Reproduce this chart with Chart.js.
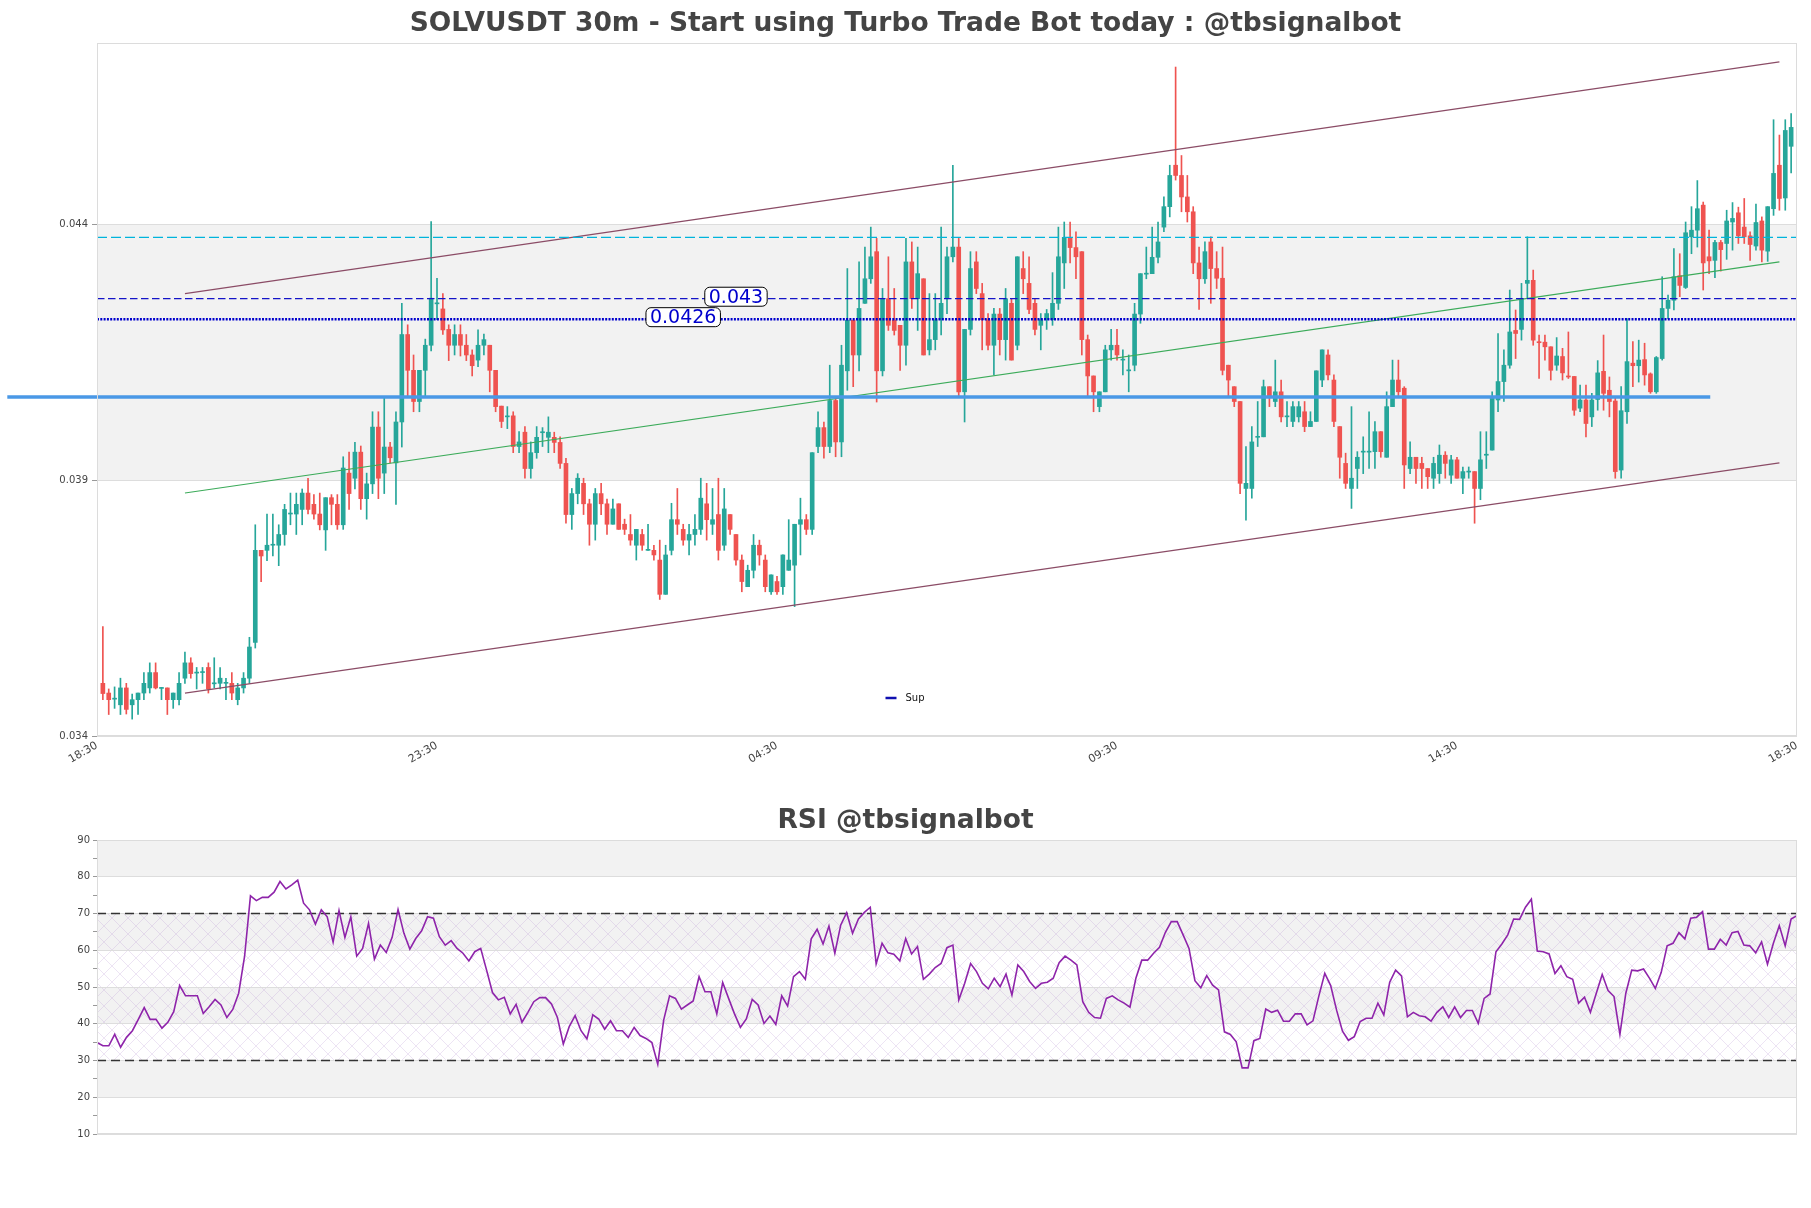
<!DOCTYPE html>
<html>
<head>
<meta charset="utf-8">
<script src="https://cdn.jsdelivr.net/npm/chart.js@4.4.1/dist/chart.umd.min.js"></script>
<style>
  html, body { margin: 0; padding: 0; background: #fff; }
  #priceBox { position: absolute; left: 0; top: 0; width: 1811px; height: 790px; }
  #rsiBox { position: absolute; left: 0; top: 790px; width: 1811px; height: 418px; }
</style>
</head>
<body>
<div id="priceBox"><canvas id="price"></canvas></div>
<div id="rsiBox"><canvas id="rsi"></canvas></div>
<script>
// --- data (5m candles, 24h) ---
const timeLabels = ['18:30', '23:30', '04:30', '09:30', '14:30', '18:30'];
const priceTicks = [0.03445, 0.03945, 0.04445];
const priceTickLabels = ['0.034', '0.039', '0.044'];

const opens = [
  0.03548,0.03529,0.03517,0.03506,0.03539,0.03506,0.03516,0.03529,0.03539,0.03569,
  0.03538,0.03539,0.03516,0.03516,0.03558,0.03588,0.03568,0.03569,0.03579,0.03547,
  0.03548,0.03548,0.03548,0.03516,0.03539,0.03558,0.03628,0.03808,0.03808,0.03818,
  0.03818,0.03839,0.03879,0.03879,0.03888,0.03920,0.03898,0.03879,0.03848,0.03911,
  0.03898,0.03858,0.03959,0.03949,0.04000,0.03909,0.03938,0.04049,0.03959,0.04010,
  0.03979,0.04059,0.04230,0.04160,0.04099,0.04160,0.04209,0.04290,0.04280,0.04240,
  0.04209,0.04230,0.04209,0.04190,0.04180,0.04209,0.04209,0.04160,0.04090,0.04069,
  0.04071,0.04011,0.04039,0.03968,0.03999,0.04038,0.04029,0.04029,0.04019,0.03978,
  0.03878,0.03919,0.03939,0.03899,0.03859,0.03919,0.03899,0.03859,0.03899,0.03859,
  0.03839,0.03818,0.03839,0.03808,0.03808,0.03789,0.03722,0.03808,0.03868,0.03849,
  0.03828,0.03839,0.03849,0.03899,0.03859,0.03878,0.03818,0.03878,0.03839,0.03789,
  0.03737,0.03769,0.03818,0.03789,0.03727,0.03747,0.03737,0.03769,0.03779,0.03859,
  0.03868,0.03849,0.04011,0.04048,0.04011,0.04101,0.04020,0.04159,0.04258,0.04190,
  0.04291,0.04339,0.04392,0.04159,0.04300,0.04258,0.04248,0.04209,0.04372,0.04300,
  0.04339,0.04200,0.04220,0.04259,0.04300,0.04382,0.04401,0.04118,0.04240,0.04372,
  0.04310,0.04259,0.04209,0.04270,0.04220,0.04291,0.04209,0.04359,0.04330,0.04291,
  0.04248,0.04259,0.04259,0.04291,0.04370,0.04420,0.04400,0.04392,0.04220,0.04149,
  0.04089,0.04118,0.04200,0.04209,0.04180,0.04159,0.04170,0.04270,0.04348,0.04349,
  0.04381,0.04440,0.04480,0.04561,0.04541,0.04499,0.04470,0.04370,0.04339,0.04411,
  0.04359,0.04340,0.04170,0.04128,0.04099,0.03929,0.03929,0.04029,0.04030,0.04128,
  0.04099,0.04118,0.04069,0.04060,0.04069,0.04079,0.04050,0.04060,0.04141,0.04190,
  0.04141,0.04050,0.03978,0.03929,0.03968,0.04000,0.04000,0.04001,0.04040,0.03990,
  0.04089,0.04141,0.04125,0.03968,0.03990,0.03978,0.03968,0.03949,0.03958,0.03994,
  0.03955,0.03985,0.03949,0.03961,0.03962,0.03929,0.03994,0.04004,0.04102,0.04138,
  0.04170,0.04238,0.04240,0.04330,0.04336,0.04215,0.04215,0.04206,0.04170,0.04187,
  0.04148,0.04148,0.04086,0.04102,0.04069,0.04103,0.04158,0.04121,0.04100,0.03965,
  0.04079,0.04174,0.04169,0.04181,0.04153,0.04118,0.04183,0.04281,0.04297,0.04345,
  0.04322,0.04421,0.04434,0.04483,0.04382,0.04375,0.04410,0.04408,0.04450,0.04468,
  0.04440,0.04423,0.04403,0.04452,0.04393,0.04476,0.04561,0.04497,0.04598
];
const highs = [
  0.03659,0.03537,0.03541,0.03558,0.03548,0.03527,0.03529,0.03569,0.03588,0.03588,
  0.03540,0.03539,0.03529,0.03569,0.03609,0.03598,0.03579,0.03579,0.03588,0.03598,
  0.03579,0.03558,0.03569,0.03548,0.03569,0.03638,0.03858,0.03808,0.03879,0.03879,
  0.03858,0.03898,0.03920,0.03920,0.03928,0.03949,0.03917,0.03920,0.03911,0.03917,
  0.03917,0.03991,0.04000,0.04019,0.04012,0.03959,0.04079,0.04079,0.04109,0.04019,
  0.04079,0.04291,0.04249,0.04190,0.04160,0.04221,0.04451,0.04340,0.04310,0.04249,
  0.04249,0.04249,0.04230,0.04200,0.04239,0.04231,0.04209,0.04160,0.04090,0.04089,
  0.04079,0.04040,0.04050,0.04020,0.04050,0.04048,0.04069,0.04039,0.04030,0.03988,
  0.03929,0.03958,0.03949,0.03908,0.03929,0.03939,0.03908,0.03908,0.03899,0.03869,
  0.03878,0.03849,0.03849,0.03859,0.03818,0.03828,0.03818,0.03900,0.03929,0.03859,
  0.03859,0.03878,0.03949,0.03939,0.03929,0.03949,0.03929,0.03878,0.03839,0.03799,
  0.03779,0.03839,0.03828,0.03799,0.03760,0.03757,0.03799,0.03868,0.03859,0.03910,
  0.03878,0.03999,0.04079,0.04059,0.04170,0.04108,0.04209,0.04359,0.04258,0.04372,
  0.04401,0.04440,0.04418,0.04320,0.04382,0.04320,0.04248,0.04418,0.04411,0.04401,
  0.04339,0.04310,0.04310,0.04440,0.04401,0.04561,0.04418,0.04240,0.04392,0.04392,
  0.04330,0.04271,0.04281,0.04281,0.04320,0.04300,0.04382,0.04392,0.04382,0.04300,
  0.04271,0.04279,0.04351,0.04440,0.04450,0.04450,0.04431,0.04392,0.04229,0.04149,
  0.04118,0.04209,0.04240,0.04240,0.04200,0.04190,0.04291,0.04349,0.04401,0.04440,
  0.04450,0.04499,0.04561,0.04753,0.04580,0.04541,0.04480,0.04401,0.04411,0.04421,
  0.04392,0.04401,0.04170,0.04128,0.04099,0.04011,0.04050,0.04099,0.04141,0.04128,
  0.04180,0.04141,0.04099,0.04099,0.04099,0.04099,0.04079,0.04159,0.04200,0.04200,
  0.04151,0.04050,0.03998,0.04089,0.04001,0.04030,0.04079,0.04060,0.04040,0.04118,
  0.04180,0.04180,0.04128,0.04020,0.03990,0.03990,0.03968,0.03990,0.04014,0.04001,
  0.03994,0.03990,0.03971,0.03971,0.03962,0.04040,0.04040,0.04118,0.04232,0.04200,
  0.04317,0.04278,0.04330,0.04421,0.04356,0.04229,0.04229,0.04206,0.04224,0.04203,
  0.04235,0.04148,0.04131,0.04131,0.04115,0.04179,0.04229,0.04147,0.04108,0.04128,
  0.04261,0.04216,0.04219,0.04213,0.04155,0.04187,0.04343,0.04307,0.04398,0.04388,
  0.04450,0.04480,0.04531,0.04489,0.04434,0.04414,0.04414,0.04473,0.04488,0.04479,
  0.04496,0.04431,0.04485,0.04460,0.04480,0.04650,0.04620,0.04650,0.04662
];
const lows = [
  0.03516,0.03487,0.03499,0.03487,0.03488,0.03478,0.03487,0.03516,0.03529,0.03537,
  0.03516,0.03487,0.03499,0.03506,0.03548,0.03558,0.03537,0.03548,0.03529,0.03539,
  0.03537,0.03516,0.03516,0.03506,0.03529,0.03548,0.03617,0.03747,0.03788,0.03797,
  0.03778,0.03818,0.03858,0.03839,0.03858,0.03879,0.03869,0.03848,0.03808,0.03858,
  0.03849,0.03849,0.03888,0.03928,0.03888,0.03869,0.03919,0.03909,0.03919,0.03979,
  0.03898,0.04010,0.04109,0.04079,0.04079,0.04109,0.04198,0.04259,0.04230,0.04179,
  0.04190,0.04188,0.04179,0.04149,0.04167,0.04190,0.04118,0.04079,0.04048,0.04046,
  0.03999,0.03999,0.03949,0.03949,0.03988,0.04011,0.03999,0.03999,0.03968,0.03861,
  0.03849,0.03899,0.03878,0.03818,0.03828,0.03878,0.03839,0.03859,0.03849,0.03839,
  0.03818,0.03789,0.03808,0.03808,0.03789,0.03712,0.03722,0.03799,0.03839,0.03818,
  0.03799,0.03818,0.03839,0.03828,0.03839,0.03789,0.03808,0.03839,0.03779,0.03727,
  0.03737,0.03754,0.03779,0.03727,0.03722,0.03722,0.03722,0.03769,0.03698,0.03799,
  0.03839,0.03839,0.03999,0.03988,0.03999,0.03991,0.03991,0.04121,0.04128,0.04159,
  0.04291,0.04330,0.04098,0.04149,0.04238,0.04229,0.04160,0.04170,0.04281,0.04238,
  0.04190,0.04190,0.04200,0.04229,0.04271,0.04372,0.04108,0.04059,0.04229,0.04310,
  0.04200,0.04200,0.04151,0.04190,0.04180,0.04180,0.04200,0.04310,0.04271,0.04229,
  0.04200,0.04240,0.04248,0.04279,0.04320,0.04370,0.04339,0.04190,0.04108,0.04079,
  0.04079,0.04118,0.04180,0.04180,0.04151,0.04118,0.04159,0.04252,0.04339,0.04349,
  0.04370,0.04431,0.04460,0.04532,0.04470,0.04450,0.04349,0.04279,0.04330,0.04291,
  0.04320,0.04151,0.04108,0.04089,0.03919,0.03867,0.03910,0.04011,0.04030,0.04089,
  0.04089,0.04059,0.04050,0.04050,0.04059,0.04040,0.04050,0.04060,0.04128,0.04141,
  0.04050,0.03949,0.03929,0.03890,0.03929,0.03958,0.03968,0.03968,0.03990,0.03990,
  0.04089,0.04108,0.03929,0.03958,0.03939,0.03929,0.03929,0.03929,0.03939,0.03949,
  0.03939,0.03949,0.03919,0.03949,0.03861,0.03907,0.03968,0.04004,0.04079,0.04099,
  0.04164,0.04183,0.04219,0.04300,0.04209,0.04144,0.04180,0.04141,0.04160,0.04141,
  0.04144,0.04072,0.04079,0.04030,0.04050,0.04082,0.04082,0.04069,0.03949,0.03949,
  0.04056,0.04128,0.04137,0.04131,0.04115,0.04115,0.04180,0.04261,0.04278,0.04304,
  0.04320,0.04388,0.04401,0.04317,0.04349,0.04341,0.04354,0.04377,0.04395,0.04408,
  0.04408,0.04375,0.04395,0.04372,0.04373,0.04463,0.04473,0.04473,0.04546
];
const closes = [
  0.03528,0.03516,0.03519,0.03539,0.03497,0.03516,0.03529,0.03548,0.03569,0.03539,
  0.03540,0.03516,0.03529,0.03548,0.03588,0.03567,0.03569,0.03570,0.03537,0.03549,
  0.03558,0.03549,0.03529,0.03539,0.03558,0.03619,0.03808,0.03797,0.03818,0.03819,
  0.03839,0.03888,0.03880,0.03898,0.03920,0.03888,0.03879,0.03858,0.03911,0.03898,
  0.03858,0.03969,0.03919,0.04000,0.03909,0.03938,0.04049,0.03949,0.04010,0.03989,
  0.04059,0.04230,0.04160,0.04099,0.04160,0.04209,0.04301,0.04291,0.04239,0.04209,
  0.04230,0.04209,0.04190,0.04169,0.04209,0.04220,0.04160,0.04089,0.04060,0.04070,
  0.04011,0.04020,0.03968,0.03999,0.04029,0.04039,0.04039,0.04019,0.03978,0.03878,
  0.03919,0.03949,0.03899,0.03859,0.03919,0.03899,0.03859,0.03889,0.03849,0.03849,
  0.03828,0.03849,0.03818,0.03809,0.03799,0.03722,0.03799,0.03868,0.03859,0.03828,
  0.03839,0.03849,0.03910,0.03868,0.03868,0.03808,0.03889,0.03849,0.03789,0.03747,
  0.03769,0.03818,0.03799,0.03737,0.03760,0.03727,0.03799,0.03789,0.03859,0.03868,
  0.03849,0.03999,0.04048,0.04011,0.04101,0.04020,0.04170,0.04258,0.04190,0.04281,
  0.04339,0.04382,0.04159,0.04300,0.04248,0.04238,0.04209,0.04372,0.04300,0.04349,
  0.04190,0.04220,0.04259,0.04291,0.04382,0.04401,0.04118,0.04240,0.04359,0.04320,
  0.04259,0.04209,0.04270,0.04220,0.04300,0.04180,0.04382,0.04339,0.04279,0.04240,
  0.04259,0.04271,0.04291,0.04382,0.04420,0.04400,0.04382,0.04220,0.04149,0.04118,
  0.04118,0.04200,0.04209,0.04190,0.04181,0.04160,0.04270,0.04349,0.04349,0.04381,
  0.04411,0.04480,0.04541,0.04541,0.04499,0.04470,0.04370,0.04339,0.04392,0.04359,
  0.04340,0.04160,0.04141,0.04099,0.03939,0.03939,0.04020,0.04030,0.04128,0.04108,
  0.04118,0.04069,0.04070,0.04089,0.04089,0.04050,0.04060,0.04159,0.04200,0.04151,
  0.04060,0.03990,0.03939,0.03949,0.03990,0.04001,0.04001,0.04040,0.04001,0.04089,
  0.04141,0.04118,0.03975,0.03990,0.03968,0.03968,0.03952,0.03978,0.03994,0.03978,
  0.03985,0.03949,0.03962,0.03962,0.03929,0.03985,0.03995,0.04108,0.04138,0.04170,
  0.04235,0.04232,0.04300,0.04336,0.04219,0.04214,0.04206,0.04160,0.04188,0.04155,
  0.04147,0.04082,0.04102,0.04056,0.04102,0.04155,0.04115,0.04099,0.03962,0.04081,
  0.04177,0.04169,0.04180,0.04151,0.04118,0.04185,0.04281,0.04297,0.04343,0.04326,
  0.04429,0.04434,0.04476,0.04370,0.04374,0.04410,0.04396,0.04452,0.04457,0.04423,
  0.04421,0.04406,0.04449,0.04395,0.04480,0.04545,0.04496,0.04629,0.04635
];
const rsiValues = [
  34.9,34.0,34.0,37.1,33.6,36.3,38.1,41.2,44.4,41.2,
  41.2,38.8,40.4,43.3,50.4,47.6,47.6,47.6,42.8,44.6,
  46.6,45.1,41.7,43.9,48.3,58.3,74.8,73.5,74.4,74.4,
  75.8,78.7,76.7,77.8,79.1,72.8,71.0,67.1,71.0,69.1,
  62.2,70.8,63.5,69.1,58.4,60.5,67.3,57.6,61.4,59.4,
  63.5,71.1,64.6,60.3,63.2,65.3,69.1,68.7,63.7,61.4,
  62.6,60.5,59.2,57.1,59.6,60.5,54.6,48.5,46.5,47.2,
  42.7,45.3,40.4,43.1,46.0,47.1,47.1,45.4,41.7,34.5,
  39.2,42.2,38.1,35.9,42.4,41.3,38.5,40.8,38.1,38.1,
  36.3,39.0,36.8,36.0,34.9,29.0,41.0,47.6,46.9,44.0,
  45.1,46.2,52.8,48.7,48.7,42.7,51.2,46.9,42.7,39.0,
  41.3,46.6,45.1,40.1,42.1,39.8,47.6,44.8,52.8,54.2,
  52.1,63.1,65.7,61.7,66.6,59.2,66.9,70.2,64.6,68.5,
  70.3,71.7,56.3,61.9,59.3,58.9,57.1,63.2,59.0,61.0,
  52.1,53.5,55.3,56.4,60.7,61.4,46.5,51.0,56.4,54.2,
  51.0,49.5,52.4,50.1,53.5,47.8,56.0,54.2,51.5,49.6,
  51.0,51.3,52.4,56.6,58.4,57.3,56.0,46.0,43.1,41.7,
  41.5,46.9,47.6,46.5,45.6,44.5,52.4,57.3,57.3,59.2,
  60.8,64.9,67.8,67.8,64.2,60.5,51.7,49.8,53.1,50.5,
  49.2,37.8,37.1,35.1,28.0,28.0,35.4,36.0,44.0,43.1,
  43.7,40.7,40.7,42.7,42.7,39.7,40.8,47.6,53.7,50.4,
  43.7,38.0,35.5,36.5,40.6,41.5,41.5,45.6,42.4,51.3,
  54.6,53.0,41.9,43.1,42.2,41.9,40.7,43.1,44.6,41.7,
  44.6,41.7,43.6,43.6,40.1,46.9,48.1,59.6,61.7,64.2,
  68.5,68.4,71.7,73.9,59.8,59.6,59.0,53.7,55.8,52.8,
  52.1,45.6,47.2,43.1,48.3,53.4,49.0,47.4,37.1,48.3,
  54.6,54.4,54.9,52.4,49.6,54.0,61.2,61.9,64.8,63.1,
  68.7,69.0,70.5,60.3,60.3,63.0,61.4,64.8,65.1,61.4,
  61.2,59.3,62.3,56.2,61.9,66.7,61.2,68.5,69.4
];

// channel lines: [start value, end value] between candle indexes
const channelIdx = [14, 286];
const upperChannel = [0.04310, 0.04763];
const midChannel = [0.03920, 0.04372];
const lowerChannel = [0.03529, 0.03979];
// horizontal levels
const topLevel = 0.04420;
const level043 = 0.0430;
const level0426 = 0.0426;
const baseLevel = 0.04108;
const baseLevelIdx = [-16.3, 274.2];
const rsiLevels = [70, 30];

const FONT = '"DejaVu Sans", "Liberation Sans", sans-serif';
const GREEN = '#26a69a', RED = '#ef5350';
const N = closes.length;
const idx = closes.map((_, i) => i);
const candleColors = idx.map(i => closes[i] >= opens[i] ? GREEN : RED);
const xTickPos = timeLabels.map((_, k) => -1 + k * (N + 1) / (timeLabels.length - 1));

function seg(x0, x1, y0, y1) {
  return [{ x: x0, y: y0 }, { x: x1, y: y1 }];
}
function lineSet(data, color, width, dash, extra) {
  return Object.assign({
    type: 'line', data, borderColor: color, borderWidth: width,
    borderDash: dash || [], pointRadius: 0, fill: false, tension: 0
  }, extra || {});
}

// centred title over the whole canvas
function drawTitle(chart, text, cy) {
  const ctx = chart.ctx;
  ctx.save();
  ctx.font = 'bold 26.5px ' + FONT;
  ctx.fillStyle = '#444';
  ctx.textAlign = 'center';
  ctx.textBaseline = 'middle';
  ctx.fillText(text, chart.width / 2, cy);
  ctx.restore();
}

function drawTag(ctx, text, cx, cy) {
  ctx.save();
  ctx.font = '19px ' + FONT;
  const w = ctx.measureText(text).width + 8, h = 19;
  ctx.beginPath();
  ctx.roundRect(cx - w / 2, cy - h / 2, w, h, 5);
  ctx.fillStyle = '#fff';
  ctx.fill();
  ctx.lineWidth = 1;
  ctx.strokeStyle = '#000';
  ctx.stroke();
  ctx.fillStyle = '#0000cd';
  ctx.textAlign = 'center';
  ctx.textBaseline = 'middle';
  ctx.fillText(text, cx, cy + 1);
  ctx.restore();
}

function frame(chart) {
  const { ctx, chartArea: a } = chart;
  ctx.save();
  ctx.strokeStyle = '#dcdcdc';
  ctx.lineWidth = 1;
  ctx.strokeRect(a.left + 0.5, a.top + 0.5, a.right - a.left - 1, a.bottom - a.top - 1);
  ctx.restore();
}

const pricePlugin = {
  id: 'pricePlugin',
  beforeDraw(chart) {
    const { ctx, chartArea: a, scales: { y } } = chart;
    const t = y.getPixelForValue(priceTicks[2]), b = y.getPixelForValue(priceTicks[1]);
    ctx.save();
    ctx.fillStyle = '#f2f2f2';
    ctx.fillRect(a.left, t, a.right - a.left, b - t);
    ctx.restore();
  },
  afterDatasetsDraw(chart) {
    const { ctx, scales: { x, y } } = chart;
    drawTag(ctx, '0.043', x.getPixelForValue(108), y.getPixelForValue(level043) - 2);
    drawTag(ctx, '0.0426', x.getPixelForValue(99), y.getPixelForValue(level0426) - 2);
  },
  afterDraw(chart) {
    frame(chart);
    drawTitle(chart, 'SOLVUSDT 30m - Start using Turbo Trade Bot today : @tbsignalbot', 24);
    const { ctx, chartArea: a } = chart;
    const cx = chart.width / 2, cy = a.bottom - 38;
    ctx.save();
    ctx.strokeStyle = '#1010b0';
    ctx.lineWidth = 2.5;
    ctx.beginPath();
    ctx.moveTo(cx - 20, cy);
    ctx.lineTo(cx - 9, cy);
    ctx.stroke();
    ctx.fillStyle = '#111';
    ctx.font = '10px ' + FONT;
    ctx.textBaseline = 'middle';
    ctx.fillText('Sup', cx, cy);
    ctx.restore();
  }
};

new Chart(document.getElementById('price'), {
  type: 'bar',
  data: {
    datasets: [
      lineSet(seg(baseLevelIdx[0], baseLevelIdx[1], baseLevel, baseLevel), '#4a98e6', 3.5, null, { clip: false }),
      lineSet(seg(-1, N, topLevel, topLevel), '#00b4dc', 1.4, [10, 4]),
      lineSet(seg(-1, N, level043, level043), '#1414c8', 1.3, [7.5, 3.5]),
      lineSet(seg(-1, N, level0426, level0426), '#0000cc', 2.5, [2, 1.3]),
      lineSet(seg(channelIdx[0], channelIdx[1], upperChannel[0], upperChannel[1]), '#8b4c66', 1.2),
      lineSet(seg(channelIdx[0], channelIdx[1], midChannel[0], midChannel[1]), '#3cab5a', 1.1),
      lineSet(seg(channelIdx[0], channelIdx[1], lowerChannel[0], lowerChannel[1]), '#8b4c66', 1.2),
      {
        data: idx.map(i => ({ x: i, y: [opens[i], closes[i]] })),
        backgroundColor: candleColors, borderWidth: 0,
        barThickness: 4, grouped: false, minBarLength: 1
      },
      {
        data: idx.map(i => ({ x: i, y: [lows[i], highs[i]] })),
        backgroundColor: candleColors, borderWidth: 0,
        barThickness: 1, grouped: false
      }
    ]
  },
  options: {
    responsive: true,
    maintainAspectRatio: false,
    animation: false,
    events: [],
    layout: { padding: { left: 0, right: 14, top: 43, bottom: 0 } },
    plugins: {
      legend: { display: false },
      tooltip: { enabled: false },
      title: { display: false }
    },
    scales: {
      x: {
        type: 'linear', min: -1, max: N, offset: false,
        grid: { display: false, drawTicks: false, offset: false },
        border: { display: false },
        afterBuildTicks: s => { s.ticks = xTickPos.map(v => ({ value: v })); },
        afterFit: s => { s.height = 54; },
        ticks: {
          autoSkip: false, minRotation: 30, maxRotation: 30, padding: 3,
          color: '#444', font: { family: FONT, size: 11 },
          callback: (v, i) => timeLabels[i]
        }
      },
      y: {
        min: 0.03445, max: 0.0480,
        border: { display: false },
        grid: { color: '#dddddd', tickColor: '#999', tickLength: 5 },
        afterBuildTicks: s => { s.ticks = priceTicks.map(v => ({ value: v })); },
        afterFit: s => { s.width = 97; },
        ticks: {
          padding: 4, color: '#444', font: { family: FONT, size: 10 },
          callback: (v, i) => priceTickLabels[i]
        }
      }
    }
  },
  plugins: [pricePlugin]
});

function hatchPattern(ctx) {
  const s = 16;
  const c = document.createElement('canvas');
  c.width = s; c.height = s;
  const g = c.getContext('2d');
  g.strokeStyle = 'rgba(185,150,210,0.32)';
  g.lineWidth = 0.8;
  g.beginPath();
  g.moveTo(0, 0); g.lineTo(s, s);
  g.moveTo(0, s); g.lineTo(s, 0);
  g.stroke();
  return ctx.createPattern(c, 'repeat');
}

const rsiPlugin = {
  id: 'rsiPlugin',
  beforeDraw(chart) {
    const { ctx, chartArea: a, scales: { y } } = chart;
    ctx.save();
    ctx.fillStyle = '#f2f2f2';
    [[20, 30], [40, 50], [60, 70], [80, 90]].forEach(([lo, hi]) => {
      const t = y.getPixelForValue(hi), b = y.getPixelForValue(lo);
      ctx.fillRect(a.left, t, a.right - a.left, b - t);
    });
    const t = y.getPixelForValue(rsiLevels[0]), b = y.getPixelForValue(rsiLevels[1]);
    ctx.fillStyle = hatchPattern(ctx);
    ctx.fillRect(a.left, t, a.right - a.left, b - t);
    ctx.restore();
  },
  afterDraw(chart) {
    frame(chart);
    drawTitle(chart, 'RSI @tbsignalbot', 31);
  }
};

new Chart(document.getElementById('rsi'), {
  type: 'line',
  data: {
    datasets: [
      lineSet(idx.map(i => ({ x: i, y: rsiValues[i] })), '#8e24aa', 1.6),
      lineSet(seg(0, N - 1, rsiLevels[0], rsiLevels[0]), '#333', 1.3, [9, 5]),
      lineSet(seg(0, N - 1, rsiLevels[1], rsiLevels[1]), '#333', 1.3, [9, 5])
    ]
  },
  options: {
    responsive: true,
    maintainAspectRatio: false,
    animation: false,
    events: [],
    layout: { padding: { left: 0, right: 14, top: 50, bottom: 74 } },
    plugins: {
      legend: { display: false },
      tooltip: { enabled: false },
      title: { display: false }
    },
    scales: {
      x: { type: 'linear', min: 0, max: N - 1, display: false },
      y: {
        min: 10, max: 90,
        border: { display: false },
        afterFit: s => { s.width = 97; },
        grid: {
          color: c => (c.tick && c.tick.value % 10 === 0) ? '#dddddd' : 'rgba(0,0,0,0)',
          tickColor: '#999', tickLength: 4
        },
        ticks: {
          stepSize: 5, autoSkip: false, padding: 3,
          color: '#444', font: { family: FONT, size: 10 },
          callback: v => v % 10 === 0 ? String(v) : ''
        }
      }
    }
  },
  plugins: [rsiPlugin]
});
</script>
</body>
</html>
